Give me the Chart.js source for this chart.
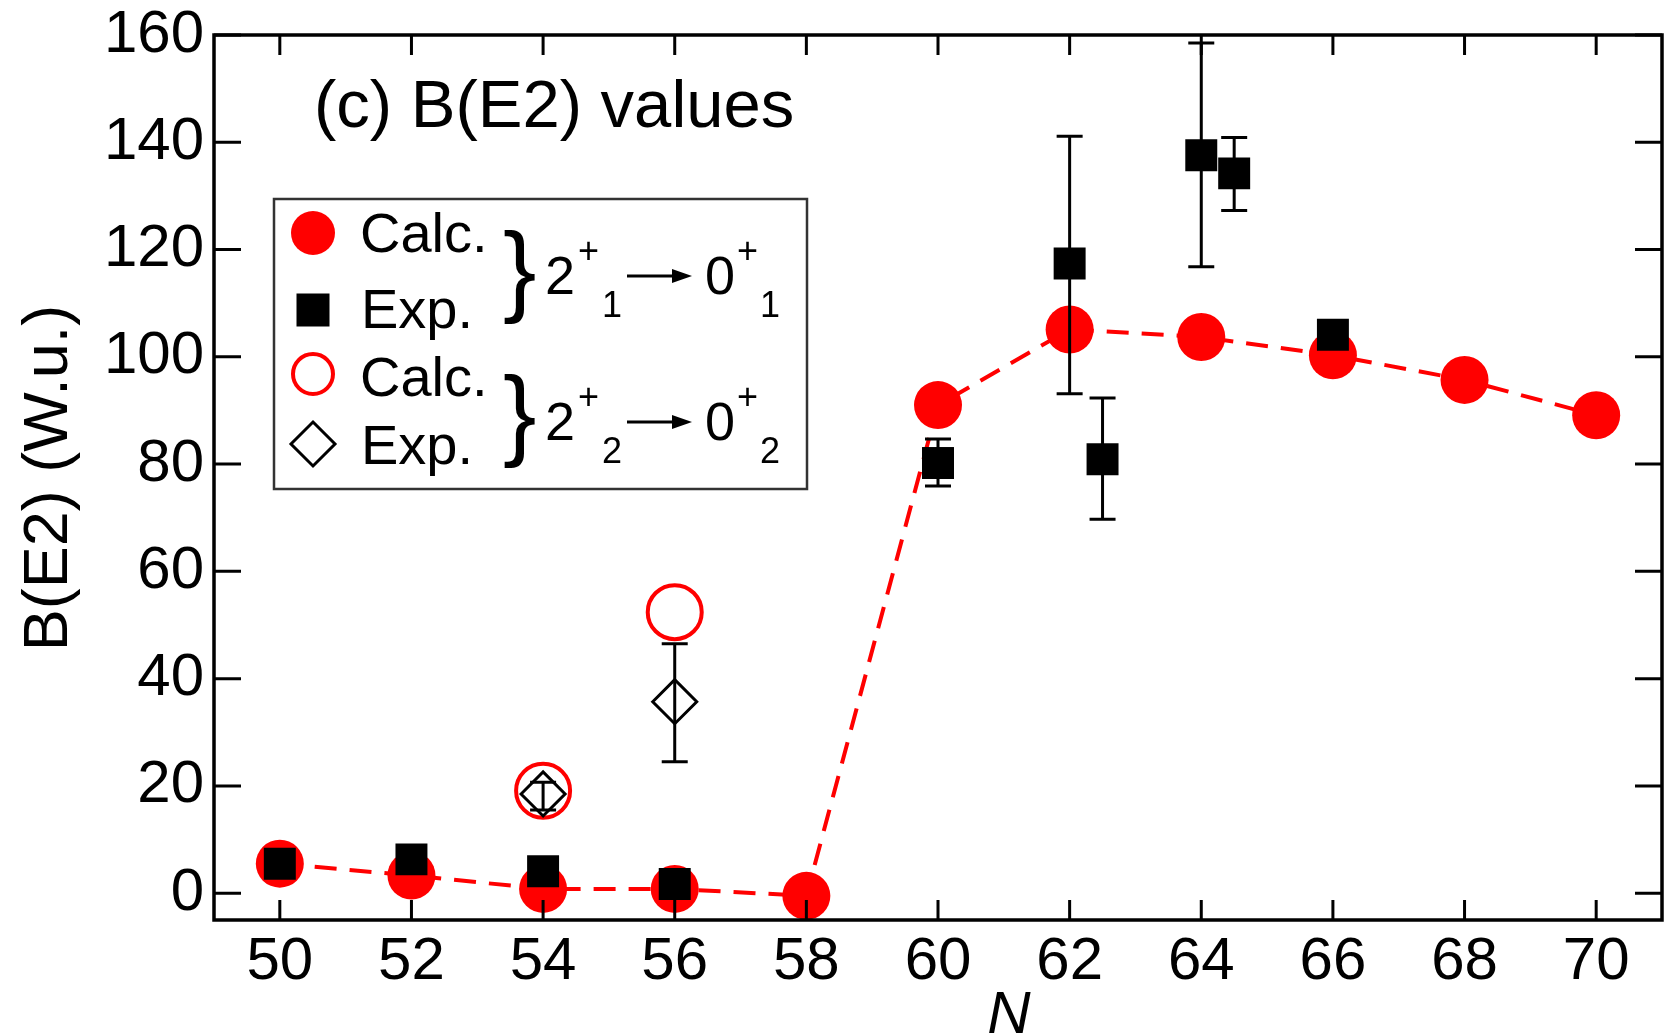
<!DOCTYPE html>
<html>
<head>
<meta charset="utf-8">
<title>B(E2) values</title>
<script src="https://cdn.jsdelivr.net/npm/chart.js@4.4.1/dist/chart.umd.min.js"></script>
<style>
    html, body { margin: 0; padding: 0; background: #fff; }
    #wrap { width: 1664px; height: 1036px; }
</style>
</head>
<body>
<div id="wrap"><canvas id="be2Chart" width="1664" height="1036"></canvas></div>
<script>
// Marcas dos eixos
const xTicks = [50, 52, 54, 56, 58, 60, 62, 64, 66, 68, 70];
const yTicks = [0, 20, 40, 60, 80, 100, 120, 140, 160];

// 2+1 -> 0+1 calculado
const calcN = [50, 52, 54, 56, 58, 60, 62, 64, 66, 68, 70];
const calcB = [5.5, 3.3, 0.8, 0.8, -0.5, 91.0, 105.1, 103.7, 100.3, 95.7, 89.1];

// 2+1 -> 0+1 experimental (com barras de erro)
const expN = [50, 52, 54, 56, 60, 62, 62.5, 64, 64.5, 66];
const expB = [5.5, 6.3, 4.1, 1.7, 80.2, 117.4, 80.9, 137.6, 134.2, 104.1];
const expLo = [null, null, null, null, 75.9, 93.1, 69.7, 116.8, 127.3, 102.0];
const expHi = [null, null, null, null, 84.7, 141.1, 92.3, 158.5, 140.9, 106.2];

// 2+2 -> 0+2 calculado e experimental
const calc2N = [54, 56];
const calc2B = [19.1, 52.4];
const exp2N = [54, 56];
const exp2B = [18.5, 35.7];
const exp2Lo = [15.5, 24.5];
const exp2Hi = [20.7, 46.5];

const FONT = "'Liberation Sans', Arial, Helvetica, sans-serif";
const RED = '#ff0000';

function toPoints(xs, ys) {
    return xs.map((x, i) => ({ x: x, y: ys[i] }));
}

// Barras de erro desenhadas logo antes do conjunto de dados correspondente
const errorBars = {
    id: 'errorBars',
    beforeDatasetDraw(chart, args) {
        const ds = chart.data.datasets[args.index];
        if (!ds.errLo) return;
        const ctx = chart.ctx;
        const xs = chart.scales.x;
        const ys = chart.scales.y;
        ctx.save();
        ctx.strokeStyle = '#000';
        ctx.lineWidth = 3;
        ds.data.forEach((p, i) => {
            if (ds.errLo[i] == null) return;
            const px = xs.getPixelForValue(p.x);
            const y1 = ys.getPixelForValue(ds.errLo[i]);
            const y2 = ys.getPixelForValue(ds.errHi[i]);
            ctx.beginPath();
            ctx.moveTo(px, y1); ctx.lineTo(px, y2);
            ctx.moveTo(px - 13, y1); ctx.lineTo(px + 13, y1);
            ctx.moveTo(px - 13, y2); ctx.lineTo(px + 13, y2);
            ctx.stroke();
        });
        ctx.restore();
    }
};

// Moldura e marcas internas nos quatro lados
const frame = {
    id: 'frame',
    afterDatasetsDraw(chart) {
        const ctx = chart.ctx;
        const a = chart.chartArea;
        const xs = chart.scales.x;
        const ys = chart.scales.y;
        ctx.save();
        ctx.strokeStyle = '#000';
        ctx.lineWidth = 3;
        ctx.beginPath();
        xTicks.forEach(v => {
            const px = xs.getPixelForValue(v);
            ctx.moveTo(px, a.bottom); ctx.lineTo(px, a.bottom - 20);
            ctx.moveTo(px, a.top); ctx.lineTo(px, a.top + 20);
        });
        yTicks.forEach(v => {
            const py = ys.getPixelForValue(v);
            ctx.moveTo(a.left, py); ctx.lineTo(a.left + 27, py);
            ctx.moveTo(a.right, py); ctx.lineTo(a.right - 27, py);
        });
        ctx.stroke();
        ctx.lineWidth = 3.5;
        ctx.strokeRect(a.left, a.top, a.right - a.left, a.bottom - a.top);
        ctx.restore();
    }
};

function drawArrow(ctx, x1, x2, y) {
    ctx.beginPath();
    ctx.moveTo(x1, y); ctx.lineTo(x2 - 14, y);
    ctx.stroke();
    ctx.beginPath();
    ctx.moveTo(x2, y); ctx.lineTo(x2 - 20, y - 7); ctx.lineTo(x2 - 20, y + 7);
    ctx.closePath();
    ctx.fill();
}

function drawTransition(ctx, base, sub) {
    ctx.font = '54px ' + FONT;
    ctx.fillText('2', 545, base);
    ctx.fillText('0', 705, base);
    ctx.font = '36px ' + FONT;
    ctx.fillText('+', 578, base - 31);
    ctx.fillText('+', 737, base - 31);
    ctx.fillText(sub, 602, base + 23);
    ctx.fillText(sub, 760, base + 23);
    ctx.lineWidth = 3;
    drawArrow(ctx, 627, 692, base - 18);
}

// Titulos, legenda e rotulos dos eixos
const annotations = {
    id: 'annotations',
    afterDraw(chart) {
        const ctx = chart.ctx;
        ctx.save();
        ctx.fillStyle = '#000';
        ctx.textBaseline = 'alphabetic';
        ctx.textAlign = 'left';

        ctx.font = '67px ' + FONT;
        ctx.fillText('(c) B(E2) values', 314, 127);

        ctx.font = 'italic 60px ' + FONT;
        ctx.textAlign = 'center';
        ctx.fillText('N', 1009, 1033);

        ctx.save();
        ctx.translate(67, 478);
        ctx.rotate(-Math.PI / 2);
        ctx.font = '63px ' + FONT;
        ctx.fillText('B(E2) (W.u.)', 0, 0);
        ctx.restore();

        // Caixa da legenda
        ctx.textAlign = 'left';
        ctx.lineWidth = 2.5;
        ctx.strokeStyle = '#333';
        ctx.strokeRect(274, 199, 533, 290);

        ctx.fillStyle = RED;
        ctx.beginPath(); ctx.arc(313, 233, 22, 0, Math.PI * 2); ctx.fill();
        ctx.fillStyle = '#000';
        ctx.fillRect(313 - 16.5, 310 - 16.5, 33, 33);
        ctx.strokeStyle = RED;
        ctx.lineWidth = 4;
        ctx.beginPath(); ctx.arc(313, 374, 20, 0, Math.PI * 2); ctx.stroke();
        ctx.strokeStyle = '#000';
        ctx.lineWidth = 3;
        ctx.beginPath();
        ctx.moveTo(313, 422); ctx.lineTo(335, 444); ctx.lineTo(313, 466); ctx.lineTo(291, 444);
        ctx.closePath(); ctx.stroke();

        ctx.font = '56px ' + FONT;
        ctx.fillText('Calc.', 360, 252);
        ctx.fillText('Exp.', 361, 328);
        ctx.fillText('Calc.', 360, 396);
        ctx.fillText('Exp.', 361, 464);

        ctx.font = '100px ' + FONT;
        ctx.fillText('}', 503, 303);
        ctx.fillText('}', 503, 447);

        drawTransition(ctx, 294, '1');
        drawTransition(ctx, 440, '2');
        ctx.restore();
    }
};

function buildChart() {
    const ctx = document.getElementById('be2Chart');
    const tickFont = { family: FONT, size: 60 };

    new Chart(ctx, {
        type: 'line',
        data: {
            datasets: [
                {
                    label: 'Calc. 2+1 -> 0+1',
                    data: toPoints(calcN, calcB),
                    borderColor: RED,
                    borderWidth: 4,
                    borderDash: [22, 13],
                    pointStyle: 'circle',
                    pointRadius: 24,
                    pointBorderWidth: 0,
                    pointBackgroundColor: RED,
                    tension: 0,
                    order: 4
                },
                {
                    label: 'Calc. 2+2 -> 0+2',
                    data: toPoints(calc2N, calc2B),
                    showLine: false,
                    pointStyle: 'circle',
                    pointRadius: 27,
                    pointBorderWidth: 4,
                    pointBorderColor: RED,
                    pointBackgroundColor: 'rgba(0,0,0,0)',
                    order: 3
                },
                {
                    label: 'Exp. 2+2 -> 0+2',
                    data: toPoints(exp2N, exp2B),
                    errLo: exp2Lo,
                    errHi: exp2Hi,
                    showLine: false,
                    pointStyle: 'rectRot',
                    pointRadius: 22,
                    pointBorderWidth: 3,
                    pointBorderColor: '#000',
                    pointBackgroundColor: 'rgba(0,0,0,0)',
                    order: 2
                },
                {
                    label: 'Exp. 2+1 -> 0+1',
                    data: toPoints(expN, expB),
                    errLo: expLo,
                    errHi: expHi,
                    showLine: false,
                    pointStyle: 'rect',
                    pointRadius: 22.6,
                    pointBorderWidth: 0,
                    pointBackgroundColor: '#000',
                    order: 1
                }
            ]
        },
        options: {
            responsive: false,
            animation: false,
            layout: {
                autoPadding: false,
                padding: { top: 35, right: 2, left: 0, bottom: 0 }
            },
            plugins: {
                legend: { display: false },
                tooltip: { enabled: false }
            },
            scales: {
                x: {
                    type: 'linear',
                    min: 49,
                    max: 71,
                    afterBuildTicks: s => { s.ticks = xTicks.map(v => ({ value: v })); },
                    afterFit: s => {
                        s.height = 116;
                        s.paddingLeft = 0;
                        s.paddingRight = 0;
                    },
                    grid: { display: false, drawTicks: false },
                    border: { display: false },
                    ticks: { padding: 6, color: '#000', font: tickFont, maxRotation: 0, autoSkip: false }
                },
                y: {
                    type: 'linear',
                    min: -5,
                    max: 160,
                    afterBuildTicks: s => { s.ticks = yTicks.map(v => ({ value: v })); },
                    afterFit: s => {
                        s.width = 214;
                        s.paddingTop = 0;
                        s.paddingBottom = 0;
                    },
                    grid: { display: false, drawTicks: false },
                    border: { display: false },
                    ticks: { padding: 10, color: '#000', font: tickFont, autoSkip: false }
                }
            }
        },
        plugins: [errorBars, frame, annotations]
    });
}

document.addEventListener('DOMContentLoaded', function() {
    buildChart();
});
</script>
</body>
</html>
